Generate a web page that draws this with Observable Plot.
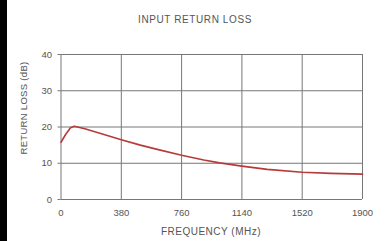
<!DOCTYPE html>
<html>
<head>
<meta charset="utf-8">
<script src="https://cdn.jsdelivr.net/npm/d3@7"></script>
<script src="https://cdn.jsdelivr.net/npm/@observablehq/plot@0.6"></script>
<style>
  html, body { margin: 0; padding: 0; background: #fff; }
  #wrap { position: relative; width: 386px; height: 241px; overflow: hidden; font-family: "Liberation Sans", Arial, sans-serif; }
  #bar { position: absolute; left: 0; top: 0; width: 7px; height: 241px; background: #000; }
  .lbl { position: absolute; color: #555; white-space: nowrap; }
  #title { left: 0; width: 390px; top: 14px; text-align: center; font-size: 10px; letter-spacing: 0.6px; }
  #xlabel { left: 60px; width: 302px; top: 226px; text-align: center; font-size: 10px; letter-spacing: 0.5px; }
  #ylabel { left: 23px; top: 108px; font-size: 9.5px; transform: translate(-50%, -50%) rotate(-90deg); letter-spacing: 0.3px; }
  svg { position: absolute; left: 0; top: 0; }
</style>
</head>
<body>
<div id="wrap">
  <div id="bar"></div>
  <div class="lbl" id="title">INPUT RETURN LOSS</div>
  <div class="lbl" id="xlabel">FREQUENCY (MHz)</div>
  <div class="lbl" id="ylabel">RETURN LOSS (dB)</div>
</div>
<script>
const freqMHz = [0, 30, 60, 84, 150, 250, 380, 500, 600, 760, 900, 1000, 1140, 1300, 1520, 1700, 1900];
const returnLossDb = [15.8, 18.0, 19.8, 20.2, 19.5, 18.2, 16.5, 15.0, 13.9, 12.2, 10.9, 10.1, 9.2, 8.3, 7.5, 7.2, 7.0];
const xTicks = [0, 380, 760, 1140, 1520, 1900];
const yTicks = [0, 10, 20, 30, 40];

const data = freqMHz.map((f, i) => ({f, db: returnLossDb[i]}));

const chart = Plot.plot({
  width: 386,
  height: 241,
  marginLeft: 60.5,
  marginRight: 24,
  marginTop: 54,
  marginBottom: 42,
  style: {background: "transparent", fontFamily: "Liberation Sans, Arial, sans-serif", fontSize: "9.5px", color: "#555"},
  x: {domain: [0, 1900], ticks: xTicks, tickFormat: d => String(d)},
  y: {domain: [0, 40], ticks: yTicks, tickFormat: d => String(d)},
  marks: [
    Plot.gridY(yTicks, {stroke: "#777", strokeOpacity: 1, strokeWidth: 1}),
    Plot.gridX(xTicks, {stroke: "#777", strokeOpacity: 1, strokeWidth: 1}),
    Plot.axisY(yTicks, {tickSize: 3, tickPadding: 6, label: null, stroke: "#777", fill: "#555", tickFormat: d => String(d)}),
    Plot.axisX(xTicks, {tickSize: 0, tickPadding: 10, label: null, fill: "#555", tickFormat: d => String(d)}),
    Plot.line(data, {x: "f", y: "db", stroke: "#b73a3a", strokeWidth: 1.6})
  ]
});
document.getElementById("wrap").appendChild(chart);
</script>
</body>
</html>
